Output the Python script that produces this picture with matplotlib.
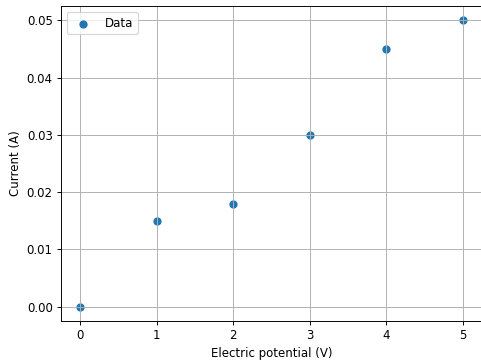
import matplotlib
matplotlib.use('Agg')
import matplotlib.pyplot as plt

potencial = [0, 1, 2, 3, 4, 5]
corrente = [0.0, 0.015, 0.018, 0.030, 0.045, 0.050]

dpi = 85
fig = plt.figure(figsize=(481/dpi, 360/dpi), dpi=dpi)
ax = fig.add_axes([61/481, 39/360, 421/481, 315/360])
ax.scatter(potencial, corrente, label='Data')
ax.set(xlabel='Electric potential (V)', ylabel='Current (A)')
ax.grid()
ax.legend(loc='upper left')

plt.savefig('out.png', dpi=dpi)
